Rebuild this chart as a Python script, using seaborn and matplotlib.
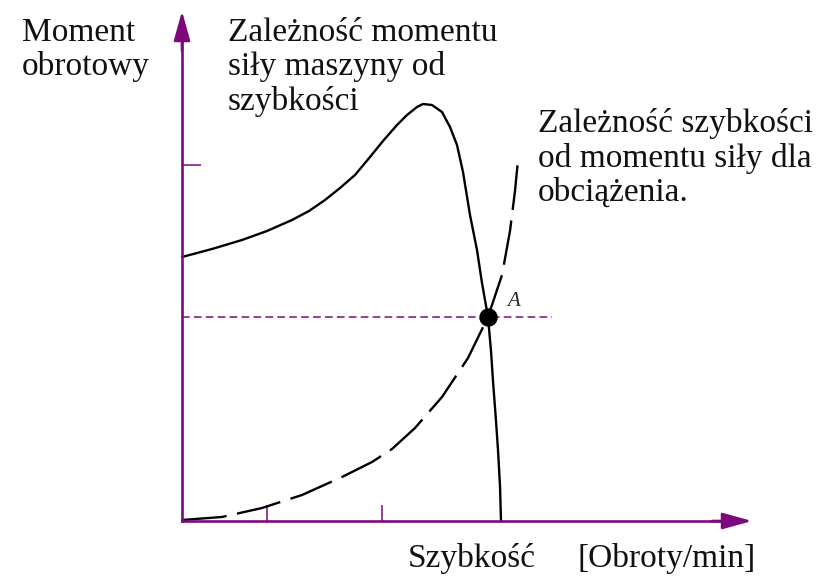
import numpy as np
import pandas as pd
import matplotlib
matplotlib.use("Agg")
import matplotlib.pyplot as plt
import seaborn as sns

# motor torque vs speed (solid)
motor_speed = [0, 30, 60, 85, 110, 127, 143, 158, 173, 188, 201, 215, 225, 235, 241,
               250, 260, 268, 275, 281, 288, 295, 300, 306, 309, 311, 314, 316, 318, 319]
motor_torque = [264, 272, 281, 290, 301, 310, 321, 333, 346, 364, 380, 396, 406, 414, 417,
                416, 409, 394, 376, 349, 306, 271, 238, 204, 170, 140, 100, 71, 35, 0]

# load torque vs speed (dashed)
load_speed = [0, 40, 80, 120, 160, 190, 210, 233, 260, 286, 306, 320, 328, 333, 336]
load_torque = [1, 4, 13, 26, 44, 59, 72, 93, 124, 163, 204, 246, 290, 330, 361]

point_a = (306, 204)
x_ticks = [85, 200]
y_ticks = [356]

purple = "#7d0a7d"

sns.set_style("white")
plt.rcParams["font.family"] = ["Liberation Serif", "DejaVu Serif"]

fig = plt.figure(figsize=(8.21, 5.79), dpi=100)
ax = fig.add_axes([0, 0, 1, 1])
ax.set_xlim(-182, 639)
ax.set_ylim(-58, 521)

motor = pd.DataFrame({"speed": motor_speed, "torque": motor_torque})
load = pd.DataFrame({"speed": load_speed, "torque": load_torque})

sns.lineplot(data=motor, x="speed", y="torque", sort=False, estimator=None,
             color="black", lw=1.7, ax=ax)
sns.lineplot(data=load, x="speed", y="torque", sort=False, estimator=None,
             color="black", lw=1.7, ax=ax)
ax.lines[-1].set_dashes((19, 4.5))

# operating point
ax.plot([0, 370], [point_a[1], point_a[1]], color=purple, lw=1.1, dashes=(5, 2.8))
sns.scatterplot(x=[point_a[0]], y=[point_a[1]], s=150, color="black", ax=ax,
                zorder=5, edgecolor="black")
ax.text(point_a[0] + 19, point_a[1] + 11, "A", style="italic", fontsize=15)

# axes with arrows
for side in ["top", "right"]:
    ax.spines[side].set_visible(False)
for side in ["left", "bottom"]:
    ax.spines[side].set_color(purple)
    ax.spines[side].set_linewidth(1.9)
    ax.spines[side].set_position(("data", 0))
ax.spines["left"].set_bounds(0, 495)
ax.spines["bottom"].set_bounds(0, 555)
ax.annotate("", xy=(0, 510), xytext=(0, 470),
            arrowprops=dict(arrowstyle="-|>,head_length=0.9,head_width=0.25",
                            color=purple, lw=1.9, mutation_scale=20, shrinkA=0, shrinkB=0))
ax.annotate("", xy=(570, 0), xytext=(530, 0),
            arrowprops=dict(arrowstyle="-|>,head_length=0.9,head_width=0.25",
                            color=purple, lw=1.9, mutation_scale=20, shrinkA=0, shrinkB=0))

ax.set_xticks(x_ticks)
ax.set_yticks(y_ticks)
ax.set_xticklabels([])
ax.set_yticklabels([])
ax.tick_params(axis="x", direction="in", length=11.5, width=1.1, color=purple, bottom=True)
ax.tick_params(axis="y", direction="in", length=13.7, width=1.1, color=purple, left=True)
ax.set_xlabel("")
ax.set_ylabel("")
ax.grid(False)

fs = 24
line_gap = 34.5


def px_text(x, y, lines):
    for i, s in enumerate(lines):
        fig.text(x / 821, 1 - (y + i * line_gap) / 579, s, fontsize=fs,
                 va="baseline", ha="left", color="#111111")


px_text(22, 41, ["Moment", "obrotowy"])
px_text(228, 41, ["Zależność momentu", "siły maszyny od", "szybkości"])
px_text(538, 132, ["Zależność szybkości", "od momentu siły dla", "obciążenia."])
px_text(408, 567, ["Szybkość"])
px_text(578, 567, ["[Obroty/min]"])

fig.savefig("out.png", dpi=100)
